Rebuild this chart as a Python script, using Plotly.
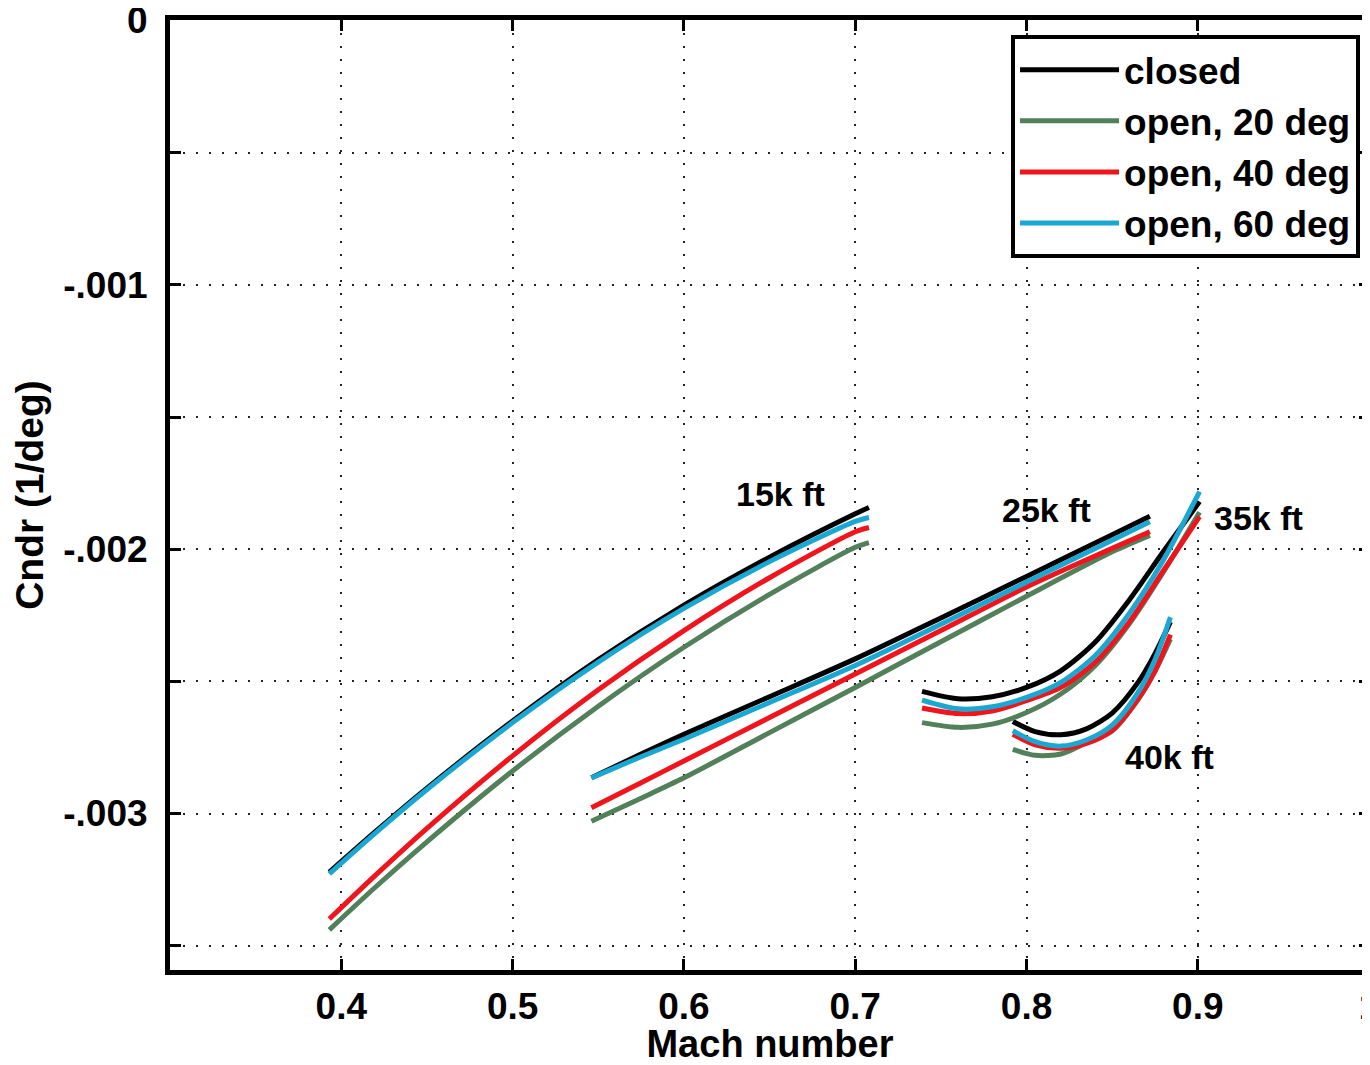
import plotly.graph_objects as go

# ---- data ----
series_names = ["closed", "open, 20 deg", "open, 40 deg", "open, 60 deg"]
series_colors = ["#000000", "#52805a", "#f0141c", "#1aa8d2"]

mach_15k = [0.393, 0.42, 0.45, 0.50, 0.55, 0.60, 0.65, 0.70, 0.708]
closed_15k = [-0.003222, -0.003068, -0.002904, -0.002650, -0.002418, -0.002212, -0.002030, -0.001866, -0.001842]
open20_15k = [-0.003440, -0.003278, -0.003107, -0.002839, -0.002594, -0.002371, -0.002171, -0.001993, -0.001975]
open40_15k = [-0.003399, -0.003233, -0.003056, -0.002782, -0.002532, -0.002308, -0.002108, -0.001934, -0.001918]
open60_15k = [-0.003228, -0.003073, -0.002909, -0.002656, -0.002427, -0.002224, -0.002047, -0.001895, -0.001880]

mach_25k = [0.546, 0.575, 0.60, 0.65, 0.70, 0.75, 0.80, 0.85, 0.872]
closed_25k = [-0.002865, -0.002775, -0.002700, -0.002558, -0.002415, -0.002260, -0.002103, -0.001945, -0.001875]
open20_25k = [-0.003029, -0.002942, -0.002865, -0.002694, -0.002523, -0.002350, -0.002178, -0.002010, -0.001948]
open40_25k = [-0.002978, -0.002884, -0.002801, -0.002637, -0.002472, -0.002308, -0.002143, -0.001997, -0.001934]
open60_25k = [-0.002865, -0.002785, -0.002719, -0.002580, -0.002440, -0.002284, -0.002124, -0.001966, -0.001896]

mach_35k = [0.739, 0.76, 0.78, 0.80, 0.82, 0.84, 0.86, 0.88, 0.901]
closed_35k = [-0.002538, -0.002566, -0.002558, -0.002523, -0.002460, -0.002352, -0.002192, -0.002008, -0.001820]
open20_35k = [-0.002656, -0.002674, -0.002662, -0.002618, -0.002548, -0.002441, -0.002282, -0.002085, -0.001860]
open40_35k = [-0.002601, -0.002622, -0.002612, -0.002573, -0.002523, -0.002428, -0.002275, -0.002080, -0.001877]
open60_35k = [-0.002571, -0.002604, -0.002596, -0.002561, -0.002504, -0.002403, -0.002243, -0.002040, -0.001782]

mach_40k = [0.792, 0.805, 0.82, 0.835, 0.85, 0.865, 0.875, 0.884]
closed_40k = [-0.002652, -0.002690, -0.002702, -0.002680, -0.002620, -0.002505, -0.002395, -0.002275]
open20_40k = [-0.002757, -0.002780, -0.002775, -0.002732, -0.002688, -0.002570, -0.002462, -0.002340]
open40_40k = [-0.002700, -0.002740, -0.002753, -0.002735, -0.002685, -0.002568, -0.002460, -0.002323]
open60_40k = [-0.002687, -0.002728, -0.002745, -0.002722, -0.002666, -0.002543, -0.002418, -0.002257]

altitude_labels = ["15k ft", "25k ft", "35k ft", "40k ft"]
label_mach = [0.6564, 0.8116, 0.9355, 0.8837]
label_cndr = [-0.001792, -0.001853, -0.001883, -0.002786]

x_tickvals = [0.4, 0.5, 0.6, 0.7, 0.8, 0.9, 1.0]
x_ticktext = ["0.4", "0.5", "0.6", "0.7", "0.8", "0.9", "1"]
y_tickvals = [0, -0.0005, -0.001, -0.0015, -0.002, -0.0025, -0.003, -0.0035]
y_ticktext = ["0", "", "-.001", "", "-.002", "", "-.003", ""]

machs = [mach_15k, mach_25k, mach_35k, mach_40k]
values = [
    [closed_15k, closed_25k, closed_35k, closed_40k],
    [open20_15k, open20_25k, open20_35k, open20_40k],
    [open40_15k, open40_25k, open40_35k, open40_40k],
    [open60_15k, open60_25k, open60_35k, open60_40k],
]

FONT = "Liberation Sans, Arial, Helvetica, sans-serif"

fig = go.Figure()
for name, color, segs in zip(series_names, series_colors, values):
    xs, ys = [], []
    for m, v in zip(machs, segs):
        xs += list(m) + [None]
        ys += list(v) + [None]
    fig.add_trace(go.Scatter(
        x=xs, y=ys, mode="lines", name=name,
        line=dict(color=color, width=5, shape="spline", smoothing=0.8),
        connectgaps=False,
    ))

for t, xm, yv in zip(altitude_labels, label_mach, label_cndr):
    fig.add_annotation(x=xm, y=yv, xref="x", yref="y", text=t, showarrow=False,
                       font=dict(family=FONT, size=34, color="black", weight="bold"))

axis_common = dict(
    showline=True, linecolor="black", linewidth=5,
    ticks="inside", tickcolor="black", tickwidth=3, ticklen=11,
    showgrid=True, gridcolor="#222222", gridwidth=2, griddash="2px,11px",
    zeroline=False, automargin=False, ticklabeloverflow="allow",
    tickfont=dict(family=FONT, size=37, color="black", weight="bold"),
)

fig.update_xaxes(
    **axis_common, mirror="ticks",
    range=[0.3, 1.0005], tickmode="array", tickvals=x_tickvals, ticktext=x_ticktext,
    ticklabelstandoff=0,
    title=dict(text="Mach number", standoff=13,
               font=dict(family=FONT, size=38, color="black", weight="bold")),
)
fig.update_yaxes(
    **axis_common, mirror="ticks",
    range=[-0.003592, 0.000002], tickmode="array", tickvals=y_tickvals, ticktext=y_ticktext,
    ticklabelstandoff=10,
    title=dict(text="Cndr (1/deg)", standoff=14,
               font=dict(family=FONT, size=39, color="black", weight="bold")),
)

# The page adds an 8 px body margin, so the figure is sized to fit the window.
fig.update_layout(
    width=1362, height=1057,
    margin=dict(l=162, r=0, t=12, b=95),
    paper_bgcolor="white", plot_bgcolor="white",
    showlegend=True,
    legend=dict(
        x=0.9917, xanchor="right", y=0.984, yanchor="top",
        bgcolor="white", bordercolor="black", borderwidth=4,
        font=dict(family=FONT, size=37, color="black", weight="bold"),
        itemwidth=99, tracegroupgap=0,
    ),
)

fig.write_html("out.html")
